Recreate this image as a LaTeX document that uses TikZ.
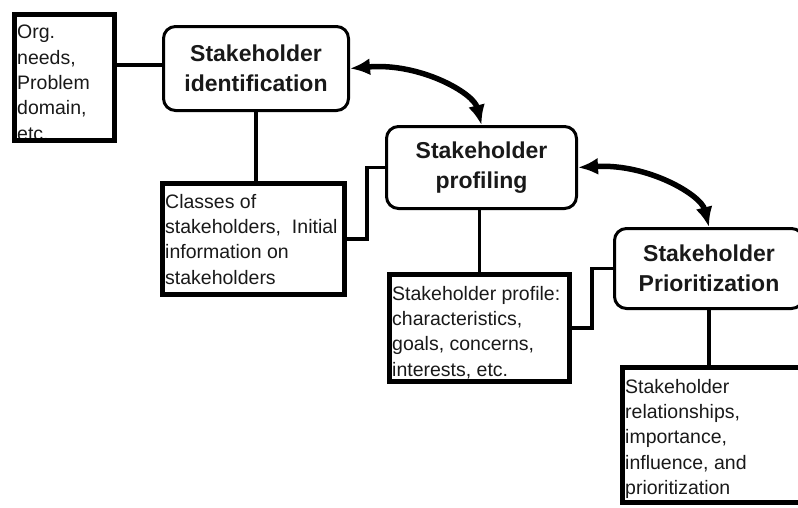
\documentclass[tikz,border=0pt]{standalone}
\usepackage{fontspec}
\setmainfont{Liberation Sans}
\usetikzlibrary{arrows.meta}

\begin{document}
\begin{tikzpicture}[x=1pt,y=-1pt,
  stage/.style={draw, line width=3pt, rounded corners=12pt, inner sep=0pt,
    align=center, font=\fontsize{23}{30}\selectfont\bfseries, text=black!90},
  infobox/.style={draw, line width=5pt, inner sep=0pt},
  infotext/.style={anchor=north west, inner sep=0pt, align=left,
    font=\fontsize{19.5}{25.3}\selectfont, text=black!90},
  link/.style={line width=3.6pt},
  flow/.style={line width=5.5pt,
    {Latex[length=20pt,width=17pt]}-{Latex[length=20pt,width=17pt]}}
]
\path[use as bounding box, clip] (0,0) rectangle (798,507);

% process stages
\node[stage, minimum width=185pt, minimum height=84pt] (n1) at (256,68.5)
  {Stakeholder\\identification};
\node[stage, minimum width=190pt, minimum height=82pt] (n2) at (481.5,167.5)
  {Stakeholder\\profiling};
\node[stage, minimum width=189pt, minimum height=80pt] (n3) at (709,268.5)
  {Stakeholder\\Prioritization};

% input / output boxes
\node[infobox, minimum width=100pt, minimum height=126pt] (b1) at (64.5,77.5) {};
\node[infobox, minimum width=182pt, minimum height=111pt] (b2) at (253.5,239) {};
\node[infobox, minimum width=180pt, minimum height=107pt] (b3) at (479.5,328) {};
\node[infobox, minimum width=189.5pt, minimum height=135pt] (b4) at (717.25,435) {};

% box texts
\begin{scope}
  \clip (17,17) rectangle (112,137.5);
  \node[infotext] (t1) at (17,25) {Org.\\needs,\\Problem\\domain,\\etc.};
\end{scope}
\node[infotext] (t2) at (165,194)
  {Classes of\\stakeholders,\ \ Initial\\information on\\stakeholders};
\node[infotext] (t3) at (392,286)
  {Stakeholder profile:\\characteristics,\\goals, concerns,\\interests, etc.};
\node[infotext] (t4) at (625,379)
  {Stakeholder\\relationships,\\importance,\\influence, and\\prioritization};

% connectors
\draw[link] ([yshift=3.5pt]n1.west -| b1.east) -- ([yshift=3.5pt]n1.west);
\draw[link] (n1.south) -- (n1.south |- b2.north);
\draw[link] (b2.east) -- ++(20,0) |- (n2.west);
\draw[link] (b3.north) -- (b3.north |- n2.south);
\draw[link] (b3.east) -- ++(20,0) |- (n3.west);
\draw[link] (n3.south) -- (n3.south |- b4.north);

% iteration arrows
\draw[flow] (n1.east) .. controls +(70,-6) and +(-8,-32) .. (n2.north);
\draw[flow] (n2.east) .. controls +(70,-4) and +(-8,-32) .. (n3.north);
\end{tikzpicture}
\end{document}
